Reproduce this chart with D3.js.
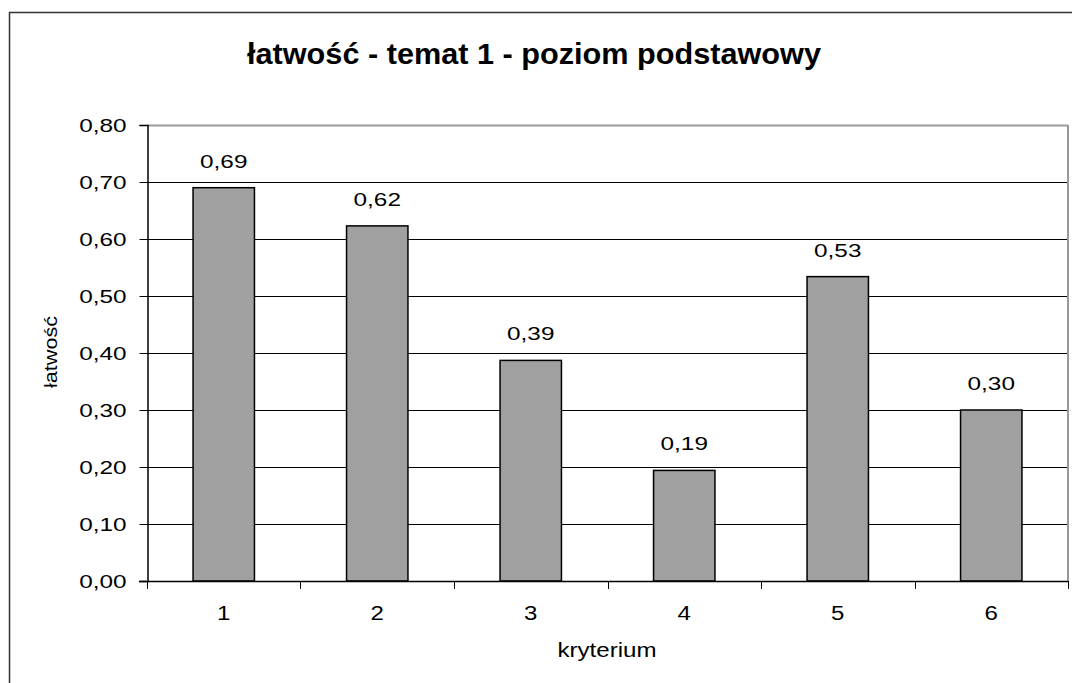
<!DOCTYPE html>
<html>
<head>
<meta charset="utf-8">
<script src="https://cdn.jsdelivr.net/npm/d3@7"></script>
<style>
  body { margin: 0; background: #fff; }
  svg text { font-family: "Liberation Sans", Arial, sans-serif; fill: #000; }
</style>
</head>
<body>
<svg id="chart" width="1072" height="683"></svg>
<script>
// data
const categories = ["1", "2", "3", "4", "5", "6"]
const values = [0.69, 0.623, 0.387, 0.194, 0.534, 0.30]
const yTicks = [0, 0.1, 0.2, 0.3, 0.4, 0.5, 0.6, 0.7, 0.8]

const title = "łatwość - temat 1 - poziom podstawowy"
const xTitle = "kryterium"
const yTitle = "łatwość"

const svg = d3.select("#chart")
const plot = {left: 147, right: 1068, top: 125, bottom: 581}

const fmt = v => v.toFixed(2).replace(".", ",")

// the original text is drawn a bit wider than the font, stretch it
const stretch = (sel, k) => {
    sel.each(function () {
        const w = this.getComputedTextLength()
        d3.select(this).attr("textLength", w * k).attr("lengthAdjust", "spacingAndGlyphs")
    })
}

const x = d3.scaleBand()
    .domain(categories)
    .range([plot.left, plot.right])
    .paddingInner(0.6)
    .paddingOuter(0.3)

const y = d3.scaleLinear()
    .domain([0, 0.8])
    .range([plot.bottom, plot.top])

// outer frame (only top + left visible)
svg.append("path")
    .attr("d", `M9.5,${683} V12.5 H1072`)
    .attr("fill", "none")
    .attr("stroke", "#333")
    .attr("stroke-width", 1.5)

// title
svg.append("text")
    .attr("x", 534)
    .attr("y", 64)
    .attr("text-anchor", "middle")
    .attr("font-size", 30)
    .attr("font-weight", "bold")
    .attr("textLength", 574)
    .attr("lengthAdjust", "spacingAndGlyphs")
    .text(title)

// gridlines
svg.append("g")
    .selectAll("line")
    .data(yTicks.filter(d => d > 0))
    .join("line")
    .attr("x1", plot.left)
    .attr("x2", plot.right)
    .attr("y1", d => Math.round(y(d)) + 0.5)
    .attr("y2", d => Math.round(y(d)) + 0.5)
    .attr("stroke", d => d === 0.8 ? "#999" : "#000")
    .attr("stroke-width", d => d === 0.8 ? 2 : 1)

// plot area right border
svg.append("line")
    .attr("x1", plot.right).attr("x2", plot.right)
    .attr("y1", plot.top).attr("y2", plot.bottom)
    .attr("stroke", "#999")
    .attr("stroke-width", 2)

// bars
svg.append("g")
    .selectAll("rect")
    .data(values)
    .join("rect")
    .attr("x", (d, i) => x(categories[i]))
    .attr("y", d => y(d))
    .attr("width", x.bandwidth())
    .attr("height", d => plot.bottom - y(d))
    .attr("fill", "#a0a0a0")
    .attr("stroke", "#000")
    .attr("stroke-width", 1.5)

// value labels
const valLabels = svg.append("g")
    .selectAll("text")
    .data(values)
    .join("text")
    .attr("x", (d, i) => x(categories[i]) + x.bandwidth() / 2)
    .attr("y", d => y(d) - 20)
    .attr("text-anchor", "middle")
    .attr("font-size", 19)
    .text(d => fmt(d))
stretch(valLabels, 1.28)

// y axis
const yAxis = svg.append("g")
    .attr("transform", `translate(${plot.left + 0.5},0)`)
    .call(d3.axisLeft(y).tickValues(yTicks).tickSize(8).tickPadding(13).tickFormat(fmt))
yAxis.select(".domain").attr("stroke", "#000").attr("stroke-width", 1.5)
yAxis.selectAll(".tick line").attr("stroke", "#000")
yAxis.selectAll(".tick text")
    .attr("font-size", 19)
    .attr("font-family", "Liberation Sans, Arial, sans-serif")
    .attr("fill", "#000")
    .attr("dy", "0.36em")
stretch(yAxis.selectAll(".tick text"), 1.28)

// x axis baseline + ticks at band boundaries
const xAxis = svg.append("g")
xAxis.append("line")
    .attr("x1", plot.left - 8).attr("x2", plot.right)
    .attr("y1", plot.bottom + 0.5).attr("y2", plot.bottom + 0.5)
    .attr("stroke", "#000")
    .attr("stroke-width", 1.5)
const edges = [plot.left]
    .concat(categories.slice(1).map(c => x(c) - (x.step() - x.bandwidth()) / 2), [plot.right])
xAxis.selectAll("line.tick")
    .data(edges)
    .join("line")
    .attr("class", "tick")
    .attr("x1", d => Math.round(d) + 0.5)
    .attr("x2", d => Math.round(d) + 0.5)
    .attr("y1", plot.bottom)
    .attr("y2", plot.bottom + 8)
    .attr("stroke", "#000")
const xLabels = xAxis.selectAll("text")
    .data(categories)
    .join("text")
    .attr("x", d => x(d) + x.bandwidth() / 2)
    .attr("y", 620)
    .attr("text-anchor", "middle")
    .attr("font-size", 20)
    .text(d => d)
stretch(xLabels, 1.2)

// axis titles
svg.append("text")
    .attr("x", 607)
    .attr("y", 657)
    .attr("text-anchor", "middle")
    .attr("font-size", 20)
    .attr("textLength", 99)
    .attr("lengthAdjust", "spacingAndGlyphs")
    .text(xTitle)

svg.append("text")
    .attr("transform", "translate(57,352) rotate(-90)")
    .attr("text-anchor", "middle")
    .attr("font-size", 19)
    .attr("textLength", 72)
    .attr("lengthAdjust", "spacingAndGlyphs")
    .text(yTitle)
</script>
</body>
</html>
